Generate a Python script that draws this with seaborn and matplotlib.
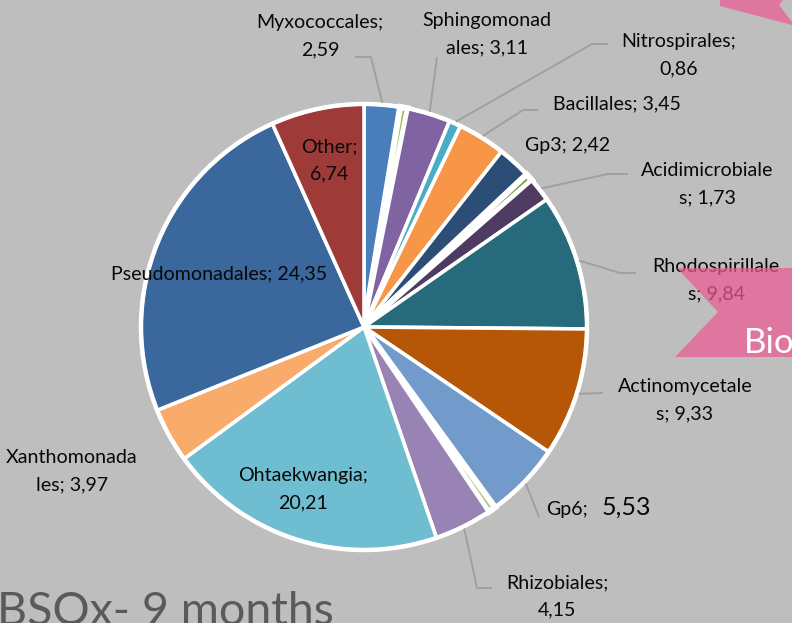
import matplotlib
matplotlib.use("Agg")
import matplotlib.pyplot as plt
import numpy as np
import seaborn as sns
from matplotlib.patches import Polygon, Circle

# order of slices, clockwise from 12 o'clock (empty names = unlabelled slivers)
orders = ["Myxococcales", "", "Sphingomonadales", "Nitrospirales", "Bacillales", "Gp3", "",
          "Acidimicrobiales", "Rhodospirillales", "Actinomycetales", "Gp6", "", "Rhizobiales",
          "Ohtaekwangia", "Xanthomonadales", "Pseudomonadales", "Other"]
shares = [2.59, 0.57, 3.11, 0.86, 3.45, 2.42, 0.57, 1.73, 9.84, 9.33, 5.53, 0.58, 4.15,
          20.21, 3.97, 24.35, 6.74]
slice_colors = ["#4A7EBB", "#9BBB59", "#8064A2", "#4BACC6", "#F79646", "#2C4D75", "#76923C",
                "#4D3B62", "#276A7C", "#B65708", "#729ACA", "#AFC97A", "#9983B5",
                "#6FBDD1", "#F9AB6B", "#3A679C", "#9E3B38"]
title = "BSOx- 9 months"

W, H = 792, 623
BG = "#BEBEBE"
CX, CY, R = 364, 327, 223


def Y(y):
    # image pixel row -> data y
    return H - y


# where Excel broke each label onto a second line (char index), None = single line
break_at = [13, None, 12, 14, None, None, None, 15, 15, 14, None, None, 12, 13, 12, None, 6]
label_pos = {0: (320, 36), 2: (487, 34), 3: (679, 55), 4: (617, 104), 5: (568, 145),
             7: (707, 184), 8: (716, 280), 9: (685, 400), 12: (557, 596), 13: (303, 489),
             14: (72, 471), 15: (219, 274), 16: (329, 160)}
leader_pts = {0: [(355, 57), (371, 57)], 2: [(437, 57)], 3: [(608, 44), (592, 44)],
              4: [(538, 110), (523, 110)], 7: [(628, 174), (608, 174)],
              8: [(636, 273), (620, 273)], 9: [(603, 393)], 10: [(539, 517)],
              12: [(492, 588), (477, 588)]}

sns.set_style("white")
plt.rcParams["font.family"] = ["Lato", "DejaVu Sans"]

fig = plt.figure(figsize=(W / 100, H / 100), dpi=100, facecolor=BG)
ax = fig.add_axes([0, 0, 1, 1])
ax.set_facecolor(BG)

palette = sns.color_palette(slice_colors)
wedges, _ = ax.pie(shares, colors=palette, startangle=90, counterclock=False,
                   center=(CX, Y(CY)), radius=R, frame=True,
                   wedgeprops=dict(edgecolor="white", linewidth=2.6))
for w, name in zip(wedges, orders):
    if not name:
        w.set_linewidth(4.4)
ax.add_patch(Circle((CX, Y(CY)), R, fill=False, edgecolor="white", lw=3.2, zorder=3))

ax.set_xlim(0, W)
ax.set_ylim(0, H)
ax.set_aspect("equal")
ax.axis("off")

FS = 14.1
INK = "#080808"
txt_kw = dict(fontsize=FS, color=INK, ha="center", va="center", linespacing=1.72, zorder=5)

for i, (name, val) in enumerate(zip(orders, shares)):
    if not name:
        continue
    vs = f"{val:.2f}".replace(".", ",")
    # rim anchor at the slice mid-angle
    w = wedges[i]
    mid = np.deg2rad((w.theta1 + w.theta2) / 2)
    rim = (CX + (R + 2) * np.cos(mid), Y(CY) + (R + 2) * np.sin(mid))
    if i in leader_pts:
        pts = [(x, Y(y)) for x, y in leader_pts[i]] + [rim]
        xs, ys = zip(*pts)
        ax.plot(xs, ys, color="#A0A0A0", lw=1.4, zorder=4, solid_capstyle="butt")
    if name == "Gp6":
        ax.text(546, Y(509), "Gp6;", fontsize=FS, color=INK, ha="left", va="center", zorder=5)
        ax.text(602, Y(507), vs, fontsize=18, color=INK, ha="left", va="center", zorder=5)
        continue
    s = f"{name}; {vs}"
    b = break_at[i]
    if b is not None:
        s = s[:b] + "\n" + s[b:].lstrip()
    x, y = label_pos[i]
    ax.text(x, Y(y), s, **txt_kw)

# slide decorations bleeding into the crop
pink = "#EC5A93"
ax.add_patch(Polygon([(720, Y(0)), (783, Y(0)), (779, Y(5)), (792, Y(22)), (792, Y(25)), (720, Y(6))],
                     closed=True, facecolor=pink, edgecolor="none", alpha=0.72, zorder=6))
ax.add_patch(Polygon([(677, Y(268)), (792, Y(268)), (792, Y(357)), (675, Y(357)), (718, Y(312))],
                     closed=True, facecolor=pink, edgecolor="none", alpha=0.72, zorder=6))
ax.text(744, Y(353), "Bio", fontsize=25, color="white", ha="left", va="baseline", zorder=7)

ax.text(-3, Y(625), title, fontsize=33.5, color="#5A5A5A", ha="left", va="baseline", zorder=5)

fig.savefig("out.png", dpi=100, facecolor=BG)
plt.close(fig)
